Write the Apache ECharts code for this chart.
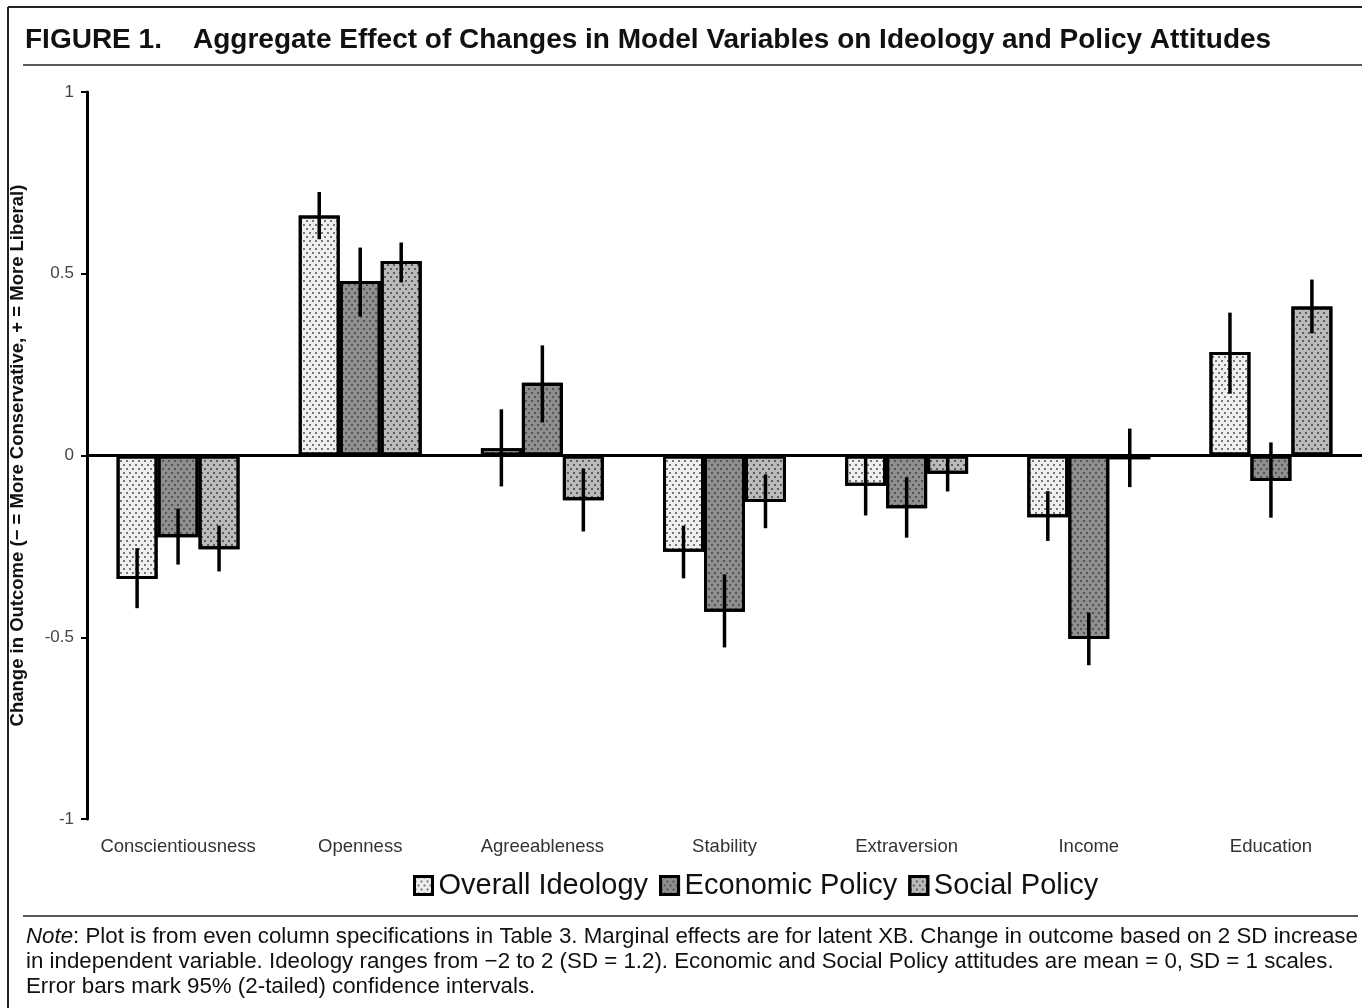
<!DOCTYPE html>
<html>
<head>
<meta charset="utf-8">
<script src="https://cdn.jsdelivr.net/npm/echarts@6/dist/echarts.min.js"></script>
<style>
  html, body { margin: 0; padding: 0; background: #fff; }
  #chart { width: 1362px; height: 1008px; }
</style>
</head>
<body>
<div id="chart"></div>
<script>
const categories = ["Conscientiousness", "Openness", "Agreeableness", "Stability", "Extraversion", "Income", "Education"]
const seriesNames = ["Overall Ideology", "Economic Policy", "Social Policy"]
const yTicks = [-1, -0.5, 0, 0.5, 1]

// point estimates
const overall = [-0.34, 0.66, 0.02, -0.265, -0.083, -0.17, 0.285]
const economic = [-0.225, 0.48, 0.20, -0.43, -0.145, -0.505, -0.07]
const social = [-0.258, 0.535, -0.123, -0.128, -0.05, -0.01, 0.41]

// 95% confidence intervals
const overallLow = [-0.42, 0.595, -0.085, -0.338, -0.165, -0.235, 0.17]
const overallHigh = [-0.255, 0.725, 0.127, -0.193, 0.0, -0.098, 0.393]
const economicLow = [-0.30, 0.382, 0.091, -0.528, -0.226, -0.577, -0.171]
const economicHigh = [-0.146, 0.572, 0.303, -0.327, -0.06, -0.432, 0.036]
const socialLow = [-0.319, 0.476, -0.209, -0.20, -0.099, -0.087, 0.336]
const socialHigh = [-0.193, 0.586, -0.036, -0.052, -0.002, 0.074, 0.484]

const barColors = ["#efefef", "#8e8e8e", "#bababa"]
const dotColors = ["rgba(0,0,0,0.5)", "rgba(0,0,0,0.4)", "rgba(0,0,0,0.5)"]
const BAR_W = 0.225

const values = [overall, economic, social]
const lows = [overallLow, economicLow, socialLow]
const highs = [overallHigh, economicHigh, socialHigh]

// error bar items: [category index, low, high, offset]
const errData = []
lows.forEach((lo, k) => {
  lo.forEach((v, i) => errData.push([i, v, highs[k][i], k - 1]))
})

const chart = echarts.init(document.getElementById("chart"))

const barSeries = seriesNames.map((name, k) => ({
  name: name,
  type: "bar",
  data: values[k],
  barWidth: (BAR_W * 100) + "%",
  barGap: "0%",
  itemStyle: {
    color: barColors[k],
    borderColor: "#000",
    borderWidth: 3,
    decal: {
      symbol: "rect",
      symbolSize: 1,
      color: dotColors[k],
      dashArrayX: [[1.5, 3.5], [0, 2.5, 1.5, 1]],
      dashArrayY: [1.5, 1.5]
    }
  },
  emphasis: { disabled: true }
}))

barSeries[0].markLine = {
  silent: true,
  symbol: "none",
  label: { show: false },
  lineStyle: { color: "#000", width: 3, type: "solid" },
  data: [{ yAxis: 0 }]
}

const option = {
  animation: false,
  textStyle: { fontFamily: "Liberation Sans, Arial, sans-serif" },
  grid: { left: 87, right: -3, top: 92, bottom: 189, containLabel: false },
  legend: {
    data: seriesNames,
    left: 408,
    top: 866,
    icon: "rect",
    itemWidth: 18,
    itemHeight: 18,
    itemGap: 11,
    itemStyle: { borderColor: "#000", borderWidth: 3 },
    textStyle: { fontSize: 29, color: "#111", padding: [0, 0, 0, 1] }
  },
  xAxis: {
    type: "category",
    data: categories,
    position: "bottom",
    axisLine: { show: false, onZero: false },
    axisTick: { show: false },
    axisLabel: { interval: 0, fontSize: 18.5, color: "#333", margin: 18 }
  },
  yAxis: {
    type: "value",
    min: -1,
    max: 1,
    interval: 0.5,
    name: "Change in Outcome (\u2212 = More Conservative, + = More Liberal)",
    nameLocation: "middle",
    nameGap: 60,
    nameTextStyle: { fontSize: 18.5, fontWeight: "bold", color: "#111" },
    axisLine: { show: true, lineStyle: { color: "#000", width: 3 } },
    axisTick: { show: true, length: 6, lineStyle: { color: "#000", width: 2 } },
    axisLabel: {
      fontSize: 17,
      color: "#444",
      margin: 13,
      formatter: v => yTicks.includes(v) ? String(v) : ""
    },
    splitLine: { show: false }
  },
  series: [
    ...barSeries,
    {
      type: "custom",
      name: "ci",
      silent: true,
      z: 5,
      data: errData,
      renderItem: (params, api) => {
        const band = api.size([1, 0])[0]
        const x = api.coord([api.value(0), 0])[0] + api.value(3) * band * BAR_W
        const y1 = api.coord([api.value(0), api.value(1)])[1]
        const y2 = api.coord([api.value(0), api.value(2)])[1]
        return {
          type: "line",
          shape: { x1: x, y1: y1, x2: x, y2: y2 },
          style: { stroke: "#000", lineWidth: 3.5 }
        }
      }
    }
  ],
  graphic: [
    // figure frame
    { type: "line", shape: { x1: 8, y1: 7, x2: 1362, y2: 7 }, style: { stroke: "#222", lineWidth: 2 } },
    { type: "line", shape: { x1: 8, y1: 7, x2: 8, y2: 1008 }, style: { stroke: "#222", lineWidth: 2 } },
    // rules
    { type: "line", shape: { x1: 23, y1: 65, x2: 1362, y2: 65 }, style: { stroke: "#222", lineWidth: 1.5 } },
    { type: "line", shape: { x1: 23, y1: 916, x2: 1358, y2: 916 }, style: { stroke: "#222", lineWidth: 1.5 } },
    {
      type: "text", left: 25, top: 26,
      style: { text: "FIGURE 1.", font: "bold 28px Liberation Sans", fill: "#111" }
    },
    {
      type: "text", left: 193, top: 26,
      style: {
        text: "Aggregate Effect of Changes in Model Variables on Ideology and Policy Attitudes",
        font: "bold 28px Liberation Sans", fill: "#111"
      }
    },
    {
      type: "text", left: 26, top: 924,
      style: {
        text: "{i|Note}: Plot is from even column specifications in Table 3. Marginal effects are for latent XB. Change in outcome based on 2 SD increase\nin independent variable. Ideology ranges from \u22122 to 2 (SD = 1.2). Economic and Social Policy attitudes are mean = 0, SD = 1 scales.\nError bars mark 95% (2-tailed) confidence intervals.",
        font: "22.3px Liberation Sans",
        fill: "#111",
        lineHeight: 25,
        rich: { i: { fontStyle: "italic", fontSize: 22.3, fontFamily: "Liberation Sans" } }
      }
    }
  ]
}

chart.setOption(option)
</script>
</body>
</html>
